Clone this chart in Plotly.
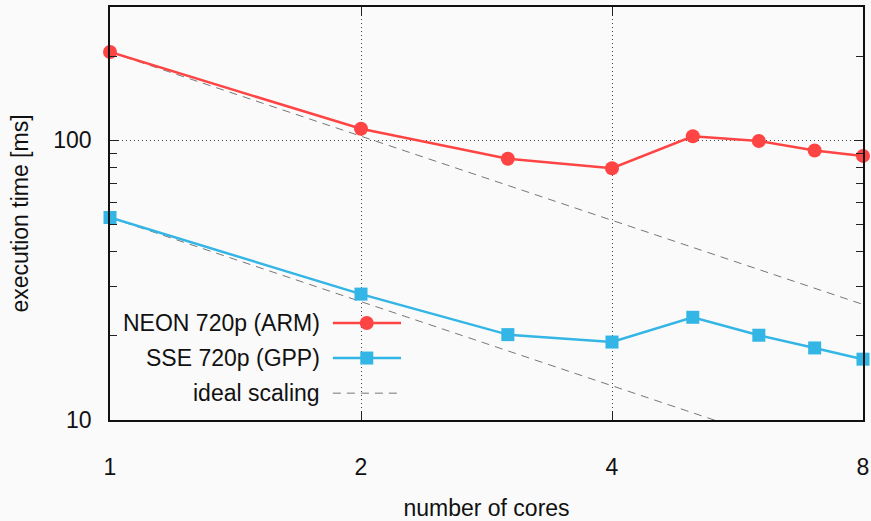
import plotly.graph_objects as go

# ---- data ----
cores = [1, 2, 3, 4, 5, 6, 7, 8]
neon_ms = [207, 110, 86, 79.5, 103.5, 99.5, 92, 88]
sse_ms = [53, 28.2, 20.2, 19.0, 23.3, 20.1, 18.1, 16.5]
ideal_neon_ms = [207, 103.5, 69, 51.75, 41.4, 34.5, 29.6, 25.9]
ideal_sse_ms = [53, 26.5, 17.7, 13.25, 10.6, 8.83, 7.57, 6.63]
x_ticks = [1, 2, 4, 8]
y_ticks = [10, 100]
y_minor = [20, 30, 40, 50, 60, 70, 80, 90, 200, 300]
legend_names = ["NEON 720p (ARM)", "SSE 720p (GPP)", "ideal scaling"]

RED = "#ff4444"
BLUE = "#33b5e5"
DASHC = "#777777"
FONT = "Liberation Sans, Arial, sans-serif"
BG = "#fafafa"

fig = go.Figure()

# ideal scaling (dashed)
for vals in (ideal_neon_ms, ideal_sse_ms):
    fig.add_trace(go.Scatter(x=cores, y=vals, mode="lines",
                             line=dict(color=DASHC, width=1, dash="8px,6px"),
                             showlegend=False, hoverinfo="skip"))

fig.add_trace(go.Scatter(x=cores, y=neon_ms, mode="lines+markers",
                         line=dict(color=RED, width=2.5),
                         marker=dict(symbol="circle", size=14, color=RED),
                         cliponaxis=False, showlegend=False))
fig.add_trace(go.Scatter(x=cores, y=sse_ms, mode="lines+markers",
                         line=dict(color=BLUE, width=2.5),
                         marker=dict(symbol="square", size=13, color=BLUE),
                         cliponaxis=False, showlegend=False))

# ---- manual legend (sample on the right of the text, like gnuplot) ----
leg_x0, leg_x1, leg_xm = 0.296, 0.3865, 0.341
leg_text_x = 0.281
leg_y = [0.235, 0.150, 0.065]
fig.add_trace(go.Scatter(x=[leg_x0, leg_x1], y=[leg_y[0]] * 2, xaxis="x2", yaxis="y2",
                         mode="lines", line=dict(color=RED, width=2.5),
                         showlegend=False, hoverinfo="skip"))
fig.add_trace(go.Scatter(x=[leg_xm], y=[leg_y[0]], xaxis="x2", yaxis="y2",
                         mode="markers", marker=dict(symbol="circle", size=14, color=RED),
                         showlegend=False, hoverinfo="skip"))
fig.add_trace(go.Scatter(x=[leg_x0, leg_x1], y=[leg_y[1]] * 2, xaxis="x2", yaxis="y2",
                         mode="lines", line=dict(color=BLUE, width=2.5),
                         showlegend=False, hoverinfo="skip"))
fig.add_trace(go.Scatter(x=[leg_xm], y=[leg_y[1]], xaxis="x2", yaxis="y2",
                         mode="markers", marker=dict(symbol="square", size=13, color=BLUE),
                         showlegend=False, hoverinfo="skip"))
fig.add_trace(go.Scatter(x=[leg_x0, leg_x1], y=[leg_y[2]] * 2, xaxis="x2", yaxis="y2",
                         mode="lines", line=dict(color=DASHC, width=1, dash="8px,6px"),
                         showlegend=False, hoverinfo="skip"))

for name, yy in zip(legend_names, leg_y):
    fig.add_annotation(x=leg_text_x, y=yy, xref="x2", yref="y2", text=name,
                       showarrow=False, xanchor="right", yanchor="middle",
                       font=dict(family=FONT, size=23, color="#111111"))

axis_common = dict(
    showline=True, linecolor="#111111", linewidth=1.6, mirror="allticks",
    ticks="inside", ticklen=9, tickwidth=1.2, tickcolor="#222222",
    showgrid=True, gridcolor="#444444", gridwidth=1, griddash="1px,3px",
    zeroline=False, automargin=False,
    tickfont=dict(family=FONT, size=23, color="#111111"),
    title_font=dict(family=FONT, size=23, color="#111111"),
)

fig.update_layout(
    width=871, height=521,
    margin=dict(l=110, r=8, t=7, b=101),
    paper_bgcolor=BG, plot_bgcolor=BG,
    xaxis=dict(type="log", range=[0, 0.90309], tickmode="array", tickvals=x_ticks,
               ticktext=[str(v) for v in x_ticks], ticklabelstandoff=26,
               title=dict(text="number of cores", standoff=24), **axis_common),
    yaxis=dict(type="log", range=[1, 2.4771], tickmode="array", tickvals=y_ticks,
               ticktext=[str(v) for v in y_ticks], ticklabelstandoff=12,
               minor=dict(tickmode="array", tickvals=y_minor, ticks="inside",
                          ticklen=7, tickcolor="#222222", showgrid=False),
               title=dict(text="execution time [ms]", standoff=18), **axis_common),
    xaxis2=dict(overlaying="x", range=[0, 1], visible=False),
    yaxis2=dict(overlaying="y", range=[0, 1], visible=False),
)

fig.write_html("out.html", config={"displayModeBar": False},
               post_script="document.body.style.margin='0';document.body.style.overflow='hidden';")
